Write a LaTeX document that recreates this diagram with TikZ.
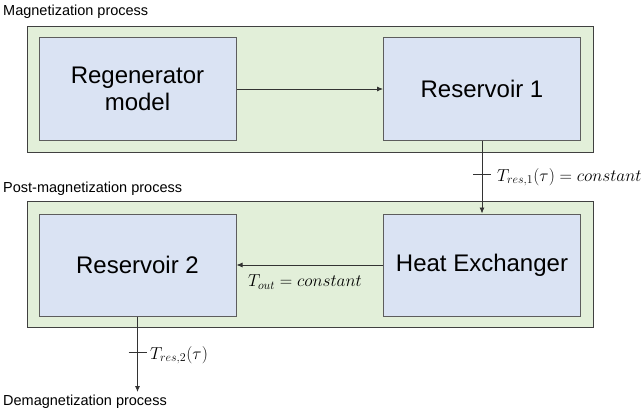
\documentclass[tikz,border=0pt]{standalone}
\usepackage{fontspec}
\setmainfont{Liberation Sans}
\usetikzlibrary{arrows.meta}
\definecolor{grp}{HTML}{E2EFD9}
\definecolor{blk}{HTML}{DAE3F3}
\definecolor{edge}{HTML}{404040}
\begin{document}
\begin{tikzpicture}[x=1pt,y=-1pt,
  group/.style={draw=edge,fill=grp,line width=1pt,minimum width=566pt,minimum height=126pt,inner sep=0pt},
  block/.style={draw=edge!85,fill=blk,line width=1pt,minimum width=197pt,minimum height=102pt,inner sep=0pt,align=center,font=\fontsize{24}{27}\selectfont},
  caption/.style={anchor=west,inner sep=0pt,font=\fontsize{14.5}{17}\selectfont},
  conn/.style={draw=black!80,line width=0.8pt,-{Latex[length=6pt,width=5pt]}},
  lbl/.style={inner sep=0pt,font=\fontsize{17}{19}\selectfont},
  tick/.style={draw=black!80,line width=0.8pt}]
\useasboundingbox (0,0) rectangle (642,412);
\node[caption] (t1) at (3,12) {Magnetization process};
\node[group] (g1) at (310,89.5) {};
\node[block] (regen) at (137.5,89) {Regenerator\\model};
\node[block] (res1) at (482,89) {Reservoir 1};
\node[caption] (t2) at (3,189) {Post-magnetization process};
\node[group] (g2) at (310,264.5) {};
\node[block] (res2) at (137.5,265) {Reservoir 2};
\node[block] (hx) at (482,265) {Heat Exchanger};
\node[caption] (t3) at (3,402) {Demagnetization process};
\coordinate (out) at (res2.south |- 0,392);
\draw[conn] (regen.east) -- (res1.west);
\draw[conn] (res1.south) -- (hx.north);
\draw[conn] (hx.west) -- (res2.east);
\draw[conn] (res2.south) -- (out);
\coordinate (k1) at (res1.south |- 0,174);
\coordinate (k2) at (res2.south |- 0,352);
\draw[tick] ([xshift=-9pt]k1) -- ([xshift=9pt]k1);
\draw[tick] ([xshift=-9pt]k2) -- ([xshift=9pt]k2);
\node[lbl,anchor=west] (l1) at (497,177) {$T_{res,1}(\tau) = constant$};
\node[lbl] (l2) at (305,282) {$T_{out} = constant$};
\node[lbl,anchor=west] (l3) at (150,355) {$T_{res,2}(\tau)$};
\end{tikzpicture}
\end{document}
